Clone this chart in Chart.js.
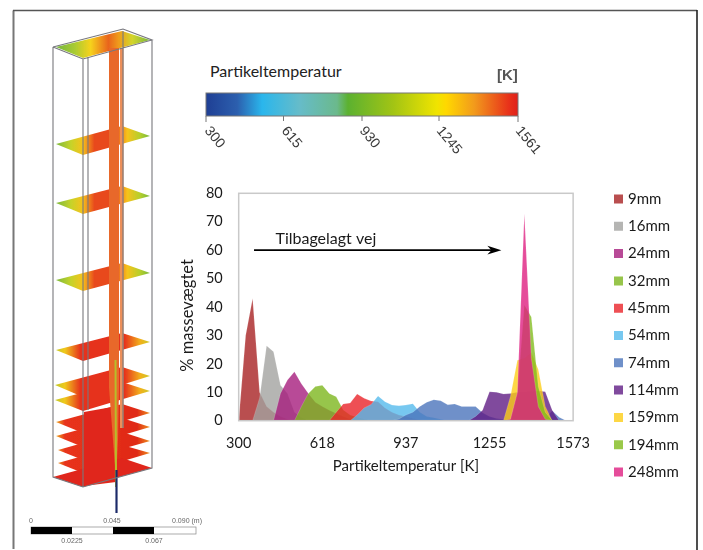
<!DOCTYPE html>
<html><head><meta charset="utf-8">
<style>
html,body{margin:0;padding:0;background:#fff;width:703px;height:550px;overflow:hidden}
#art{position:absolute;left:0;top:0}
#wrap{position:absolute;left:0;top:0;width:703px;height:550px}
</style>
<script src="https://cdn.jsdelivr.net/npm/chart.js@4"></script>
</head><body>
<svg id="art" width="703" height="550" viewBox="0 0 703 550" xmlns="http://www.w3.org/2000/svg">
<defs>
<linearGradient id="cb" x1="0" x2="1" y1="0" y2="0">
<stop offset="0" stop-color="#1f3f94"/><stop offset=".1" stop-color="#2c5fae"/><stop offset=".18" stop-color="#2ab6ec"/><stop offset=".3" stop-color="#66bcc9"/><stop offset=".42" stop-color="#6bb98c"/><stop offset=".455" stop-color="#5cb130"/><stop offset=".6" stop-color="#a2c414"/><stop offset=".74" stop-color="#f0e400"/><stop offset=".77" stop-color="#ffd800"/><stop offset=".86" stop-color="#f29a1c"/><stop offset=".97" stop-color="#e8321a"/><stop offset="1" stop-color="#e0201a"/>
</linearGradient>
<linearGradient id="pt" gradientUnits="userSpaceOnUse" x1="53" x2="152" y1="0" y2="0">
<stop offset="0" stop-color="#6db33f"/><stop offset=".22" stop-color="#a9cb33"/><stop offset=".38" stop-color="#f6d21c"/><stop offset=".56" stop-color="#e9641c"/><stop offset=".66" stop-color="#ef9a1c"/><stop offset=".8" stop-color="#d3d52c"/><stop offset="1" stop-color="#6db33f"/>
</linearGradient>
<linearGradient id="pg" gradientUnits="userSpaceOnUse" x1="53" x2="152" y1="0" y2="0">
<stop offset="0" stop-color="#6db33f"/><stop offset=".18" stop-color="#c5d32a"/><stop offset=".3" stop-color="#f6c21c"/><stop offset=".42" stop-color="#e8481c"/><stop offset=".62" stop-color="#e8481c"/><stop offset=".75" stop-color="#f6c21c"/><stop offset=".88" stop-color="#b5cf2c"/><stop offset="1" stop-color="#6db33f"/>
</linearGradient>
<linearGradient id="pm" gradientUnits="userSpaceOnUse" x1="53" x2="152" y1="0" y2="0">
<stop offset="0" stop-color="#b5c82c"/><stop offset=".12" stop-color="#f0c81c"/><stop offset=".28" stop-color="#e6301a"/><stop offset=".72" stop-color="#e6301a"/><stop offset=".88" stop-color="#f2b01c"/><stop offset="1" stop-color="#c5cf2c"/>
</linearGradient>
<linearGradient id="pr" gradientUnits="userSpaceOnUse" x1="53" x2="152" y1="0" y2="0">
<stop offset="0" stop-color="#f0d020"/><stop offset=".12" stop-color="#e8341a"/><stop offset=".85" stop-color="#e02a18"/><stop offset="1" stop-color="#f0a01c"/>
</linearGradient>
<filter id="b"><feGaussianBlur stdDeviation=".7"/></filter>
<filter id="t"><feGaussianBlur stdDeviation=".4"/></filter>
</defs>
<path d="M13.5 549V10.5" stroke="#777" stroke-width="2" fill="none"/>
<path d="M13 10.5H697" stroke="#555" stroke-width="1.6" fill="none"/>
<path d="M697 10V550" stroke="#222" stroke-width="1.6" fill="none"/>
<g filter="url(#b)">
<polygon points="56,47 83,58 150,40 122,31" fill="url(#pt)"/>
<polygon points="56,144 83,155 150,136 122,126" fill="url(#pg)"/>
<polygon points="56,203 83,214 150,196 122,186" fill="url(#pg)"/>
<polygon points="56,280 83,291 150,273 122,263" fill="url(#pg)"/>
<polygon points="56,350 83,361 150,342 122,333" fill="url(#pm)"/>
<polygon points="55,385 83,397 150,376 122,367" fill="url(#pm)"/>
<polygon points="55,400 83,411 150,391 122,382" fill="url(#pm)"/>
<polygon points="56,422 83,433 150,413 122,404" fill="url(#pr)"/>
<polygon points="56,436 83,447 150,427 122,418" fill="url(#pr)"/>
<polygon points="58,450 83,460 150,441 122,432" fill="url(#pr)"/>
<polygon points="58,463 83,473 150,453 122,445" fill="url(#pr)"/>
<polygon points="53,477 83,487 152,468 122,458" fill="#e0281a"/>
<polygon points="84,412 112,407 116,482 84,486" fill="#e0281a"/>
<rect x="109" y="48" width="10" height="340" fill="#e8672a"/>
<polygon points="109,388 119,388 118,440 116,480 113,440" fill="#e8672a"/>
<rect x="120" y="48" width="3.5" height="380" fill="#ec8f5a"/>
<path d="M115.5 360L116 487" stroke="#b7bd2c" stroke-width="2" fill="none"/>
<path d="M116.5 470V513" stroke="#1c2a6a" stroke-width="2.2" fill="none"/>
</g>
<g filter="url(#t)">
<path d="M53 47L83 59L152 40L123 29L53 47M53 47V477L83 487L152 468V40M83 59V487M88 57V410M123 31V428" stroke="#77777d" stroke-width="1.1" fill="none"/>
<rect x="31" y="527" width="165" height="7" fill="#fff" stroke="#888" stroke-width=".7"/>
<rect x="31" y="527" width="41" height="7" fill="#000"/>
<rect x="113" y="527" width="41" height="7" fill="#000"/>
<g font-family="Liberation Sans" font-size="7" fill="#666" text-anchor="middle">
<text x="31" y="523">0</text><text x="112" y="523">0.045</text><text x="187" y="523">0.090 (m)</text>
<text x="72" y="543">0.0225</text><text x="154" y="543">0.067</text></g>
</g>
<rect x="206" y="93" width="312" height="23" fill="url(#cb)" stroke="#777" stroke-width="1"/>
<path d="M206 116V122M283.5 116V121M362 116V121M439 116V121M518 116V122" stroke="#777" stroke-width="1"/>
<g font-family="Liberation Sans" font-size="14" fill="#3a3a3a" filter="url(#t)">
<text transform="translate(204,131) rotate(50)">300</text>
<text transform="translate(281,131) rotate(50)">615</text>
<text transform="translate(359,131) rotate(50)">930</text>
<text transform="translate(436,131) rotate(50)">1245</text>
<text transform="translate(515,131) rotate(50)">1561</text>
</g>
<text x="210" y="77" font-family="Lato" font-size="16" fill="#222">Partikeltemperatur</text>
<text x="497" y="80" font-family="Liberation Sans" font-size="15" font-weight="bold" fill="#555" filter="url(#t)">[K]</text>
</svg>
<div id="wrap"><canvas id="c" width="703" height="550"></canvas></div>
<script>
const temperatures=[300,327,353,380,406,433,459,486,512,539,565,592,618,645,671,698,724,751,777,804,830,857,883,910,937,963,990,1016,1043,1069,1096,1122,1149,1175,1202,1228,1255,1281,1308,1334,1361,1387,1414,1440,1467,1493,1520,1546,1573];
const s9mm  =[0,30,43,10,5,3,1.5,.5,0,0,0,0,0,0,0,0,0,0,0,0,0,0,0,0,0,0,0,0,0,0,0,0,0,0,0,0,0,0,0,0,0,0,0,0,0,0,0,0,0];
const s16mm =[0,0,0,8,26.4,24.3,12.5,9.6,3,1,0,0,0,0,0,0,0,0,0,0,0,0,0,0,0,0,0,0,0,0,0,0,0,0,0,0,0,0,0,0,0,0,0,0,0,0,0,0,0];
const s24mm =[0,0,0,0,0,0,9.6,14.3,17.2,13,9.6,6.5,5,3.7,2.5,1.5,.5,0,0,0,0,0,0,0,0,0,0,0,0,0,0,0,0,0,0,0,0,0,0,0,0,0,0,0,0,0,0,0,0];
const s32mm =[0,0,0,0,0,0,0,0,0,5,9.6,12,12.5,9.6,8.4,3.8,2,1.2,.5,0,0,0,0,0,0,0,0,0,0,0,0,0,0,0,0,0,0,0,0,0,0,0,0,0,0,0,0,0,0];
const s45mm =[0,0,0,0,0,0,0,0,0,0,0,0,0,0,3,5.9,6.2,9.4,7.9,6.9,6.7,4.5,3,2,1.5,.8,.3,0,0,0,0,0,0,0,0,0,0,0,0,0,0,0,0,0,0,0,0,0,0];
const s54mm =[0,0,0,0,0,0,0,0,0,0,0,0,0,0,0,0,0,2,4.5,5.7,8.7,6.7,5.5,5.3,5.5,6,3,1.5,1,.5,0,0,0,0,0,0,0,0,0,0,0,0,0,0,0,0,0,0,0];
const s74mm =[0,0,0,0,0,0,0,0,0,0,0,0,0,0,0,0,0,0,0,0,0,0,0,.6,2,3,5,6.5,7.4,7,5.6,5.9,5,5,5,2.8,1.5,.8,.5,.5,.5,.5,.5,.5,.8,3.5,1.2,0,0];
const s114mm=[0,0,0,0,0,0,0,0,0,0,0,0,0,0,0,0,0,0,0,0,0,0,0,0,0,0,0,0,0,0,0,0,0,0,1.5,3.7,10.2,10,9.4,9.6,10,10,10.3,10.5,10.2,3.7,0,0,0];
const s159mm=[0,0,0,0,0,0,0,0,0,0,0,0,0,0,0,0,0,0,0,0,0,0,0,0,0,0,0,0,0,0,0,0,0,0,0,0,0,0,0,8.5,21.3,22,24,18,5,0,0,0,0];
const s194mm=[0,0,0,0,0,0,0,0,0,0,0,0,0,0,0,0,0,0,0,0,0,0,0,0,0,0,0,0,0,0,0,0,0,0,0,0,0,0,0,0,9,40.7,36.5,12,3,0,0,0,0];
const s248mm=[0,0,0,0,0,0,0,0,0,0,0,0,0,0,0,0,0,0,0,0,0,0,0,0,0,0,0,0,0,0,0,0,0,0,0,0,0,0,0,.5,10,72.8,22,5,.5,0,0,0,0];
const seriesNames=["9mm","16mm","24mm","32mm","45mm","54mm","74mm","114mm","159mm","194mm","248mm"];
const seriesValues=[s9mm,s16mm,s24mm,s32mm,s45mm,s54mm,s74mm,s114mm,s159mm,s194mm,s248mm];
const seriesColors=[[167,34,35],[162,162,160],[166,29,125],[125,182,30],[234,35,41],[85,186,236],[75,116,187],[96,29,132],[252,205,22],[129,187,29],[223,31,129]];
const yTicks=[0,10,20,30,40,50,60,70,80];
const arrowLabel="Tilbagelagt vej";
const arrowValue=60, arrowFrom=2.2, arrowTo=37.7;
const FONT="Lato";
const ALPHA=.8;
const flat=c=>'rgb('+c.map(v=>Math.round(v*ALPHA+255*(1-ALPHA))).join(',')+')';

const overlay={id:'overlay',
 afterLayout(chart){ const l=chart.legend; const w=l.width,h=l.height; l.left=604.2; l.right=l.left+w; l.top=179.2; l.bottom=l.top+h; },
 afterDraw(chart){
  const {ctx,chartArea:a,scales:{x,y}}=chart;
  ctx.save();
  ctx.strokeStyle='#c9c9c9';ctx.lineWidth=1.5;
  ctx.strokeRect(a.left,a.top,a.right-a.left,a.bottom-a.top);
  const py=y.getPixelForValue(arrowValue), x0=x.getPixelForValue(arrowFrom), x1=x.getPixelForValue(arrowTo);
  ctx.strokeStyle='#000';ctx.lineWidth=1.7;
  ctx.beginPath();ctx.moveTo(x0,py);ctx.lineTo(x1-6,py);ctx.stroke();
  ctx.fillStyle='#000';ctx.beginPath();
  ctx.moveTo(x1,py);ctx.lineTo(x1-14,py-4.3);ctx.lineTo(x1-10,py);ctx.lineTo(x1-14,py+4.3);ctx.closePath();ctx.fill();
  ctx.font='16px '+FONT;ctx.fillStyle='#1a1a1a';ctx.textAlign='left';ctx.textBaseline='alphabetic';
  ctx.fillText(arrowLabel,275.5,244);
  ctx.restore();
 }};

new Chart(document.getElementById('c'),{
 type:'line',
 data:{labels:temperatures,datasets:seriesNames.map((n,i)=>({
  label:n,data:seriesValues[i],order:seriesNames.length-i,
  backgroundColor:'rgba('+seriesColors[i].join(',')+','+ALPHA+')',
  borderColor:'rgba(255,255,255,0.22)',borderWidth:.7,
  fill:'origin',pointRadius:0,tension:0}))},
 plugins:[overlay],
 options:{
  responsive:false,animation:false,devicePixelRatio:1,
  layout:{padding:{left:178,top:193.3,right:45.3,bottom:0}},
  plugins:{
   tooltip:{enabled:false},
   legend:{position:'right',align:'start',labels:{
     boxWidth:4,boxHeight:4,padding:12.3,color:'#1a1a1a',font:{family:FONT,size:15},
     generateLabels(chart){return Chart.defaults.plugins.legend.labels.generateLabels(chart).map(o=>{const c=flat(seriesColors[o.datasetIndex]);return {...o,fillStyle:c,strokeStyle:c,lineWidth:5,lineDash:[]};});},
     sort:(a,b)=>a.datasetIndex-b.datasetIndex
   }}
  },
  scales:{
   x:{type:'category',offset:false,grid:{display:false},border:{display:false},
      ticks:{autoSkip:false,maxRotation:0,minRotation:0,padding:6,color:'#1a1a1a',font:{family:FONT,size:14.5},
        callback(v,i){return i%12===0?this.getLabelForValue(v):'';}},
      title:{display:true,text:'Partikeltemperatur [K]',color:'#1a1a1a',font:{family:FONT,size:15},padding:{top:3,bottom:75}},
      afterFit(s){s.height=129.3;}},
   y:{min:0,max:80,grid:{display:false},border:{display:false},
      afterBuildTicks(s){s.ticks=yTicks.map(v=>({value:v}));},
      ticks:{padding:8,color:'#1a1a1a',font:{family:FONT,size:14.5}},
      title:{display:true,text:'% massevægtet    ',color:'#1a1a1a',font:{family:FONT,size:16.5},padding:{top:0,bottom:0}},
      afterFit(s){s.width=60.7;}}
  }
 }
});
</script>
</body></html>
